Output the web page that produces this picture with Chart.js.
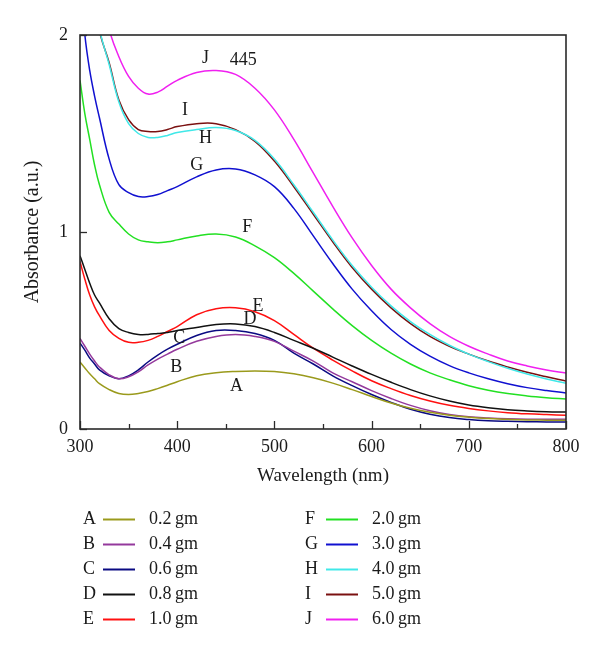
<!DOCTYPE html>
<html>
<head>
<meta charset="utf-8">
<script src="https://cdn.jsdelivr.net/npm/chart.js@4/dist/chart.umd.min.js"></script>
<style>
html,body{margin:0;padding:0;background:#fff;}
#wrap{width:600px;height:649px;position:relative;}
</style>
</head>
<body>
<div id="wrap"><canvas id="c" width="600" height="649"></canvas></div>
<script>
// ---- data ----
const wavelengths = [300,305,310,315,320,330,340,350,360,370,380,390,400,420,440,460,480,500,520,540,560,580,600,620,640,660,680,700,720,740,760,780,800];
const seriesLetters = ['A','B','C','D','E','F','G','H','I','J'];
const seriesNames = ['0.2\u2009gm','0.4\u2009gm','0.6\u2009gm','0.8\u2009gm','1.0\u2009gm','2.0\u2009gm','3.0\u2009gm','4.0\u2009gm','5.0\u2009gm','6.0\u2009gm'];
const seriesColors = ['#9a9a1c','#94399c','#0a0a82','#111111','#ff1010','#22e022','#1010d0','#40e8e8','#7a1010','#f020f0'];

const A = [0.34,0.31,0.28,0.255,0.23,0.20,0.18,0.175,0.18,0.19,0.205,0.222,0.24,0.27,0.285,0.292,0.295,0.292,0.28,0.26,0.233,0.20,0.165,0.132,0.105,0.085,0.07,0.06,0.053,0.049,0.046,0.045,0.044];
const B = [0.46,0.42,0.38,0.345,0.315,0.275,0.255,0.265,0.29,0.325,0.355,0.38,0.405,0.445,0.47,0.48,0.47,0.445,0.395,0.345,0.285,0.24,0.195,0.155,0.12,0.093,0.074,0.062,0.056,0.052,0.05,0.05,0.05];
const C = [0.437,0.40,0.36,0.33,0.30,0.27,0.255,0.27,0.30,0.34,0.375,0.405,0.43,0.475,0.50,0.50,0.485,0.45,0.385,0.33,0.27,0.22,0.175,0.135,0.10,0.075,0.058,0.048,0.042,0.039,0.037,0.036,0.036];
const D = [0.88,0.81,0.74,0.68,0.64,0.56,0.51,0.49,0.48,0.48,0.485,0.49,0.50,0.515,0.53,0.533,0.52,0.49,0.45,0.41,0.365,0.32,0.277,0.237,0.20,0.168,0.142,0.122,0.108,0.098,0.092,0.088,0.086];
const E = [0.85,0.76,0.68,0.62,0.575,0.50,0.46,0.44,0.44,0.45,0.47,0.495,0.52,0.58,0.61,0.615,0.595,0.55,0.48,0.41,0.35,0.295,0.245,0.205,0.17,0.142,0.12,0.104,0.092,0.083,0.077,0.073,0.07];
const F = [1.77,1.60,1.47,1.34,1.24,1.10,1.04,0.99,0.96,0.95,0.945,0.95,0.96,0.98,0.99,0.975,0.93,0.87,0.79,0.70,0.61,0.525,0.45,0.385,0.33,0.285,0.25,0.22,0.197,0.18,0.168,0.159,0.152];
const G = [2.3,2.0,1.82,1.69,1.58,1.37,1.24,1.20,1.18,1.18,1.19,1.21,1.23,1.28,1.315,1.32,1.29,1.23,1.12,0.98,0.84,0.71,0.60,0.505,0.43,0.37,0.322,0.285,0.255,0.23,0.21,0.195,0.183];
const H = [2.7,2.55,2.38,2.2,2.03,1.85,1.66,1.55,1.50,1.48,1.48,1.49,1.505,1.52,1.53,1.515,1.465,1.37,1.24,1.10,0.96,0.83,0.72,0.625,0.545,0.48,0.425,0.38,0.342,0.308,0.279,0.254,0.232];
const I = [2.7,2.55,2.38,2.2,2.02,1.86,1.67,1.57,1.52,1.51,1.51,1.52,1.535,1.55,1.55,1.52,1.46,1.36,1.23,1.09,0.95,0.82,0.71,0.615,0.535,0.47,0.42,0.38,0.345,0.315,0.288,0.265,0.244];
const J = [2.9,2.75,2.6,2.45,2.3,2.03,1.89,1.79,1.73,1.70,1.71,1.74,1.77,1.81,1.82,1.80,1.73,1.62,1.47,1.30,1.13,0.97,0.83,0.71,0.615,0.535,0.47,0.42,0.38,0.345,0.32,0.30,0.284];
const seriesValues = [A,B,C,D,E,F,G,H,I,J];

const xTickValues = [300,400,500,600,700,800];
const yTickValues = [0,1,2];
// curve annotation labels: [text, wavelength, absorbance]
const curveLabelText = ['A','B','C','D','E','F','G','H','I','J','445'];
const curveLabelX = [461,399,402,475,483,472,420,429,408,429,468];
const curveLabelY = [0.218,0.315,0.462,0.558,0.624,1.025,1.34,1.477,1.619,1.883,1.873];

const SERIF = '"Liberation Serif", "DejaVu Serif", serif';

const datasets = seriesValues.map((vals, i) => ({
  label: seriesLetters[i] + ' ' + seriesNames[i],
  data: wavelengths.map((w, k) => ({x: w, y: vals[k]})),
  borderColor: seriesColors[i],
  backgroundColor: seriesColors[i],
  borderWidth: 1.5,
  pointRadius: 0,
  tension: 0.4,
  fill: false
}));

const decor = {
  id: 'decor',
  afterDraw(chart) {
    const ctx = chart.ctx;
    const a = chart.chartArea;
    const xs = chart.scales.x, ys = chart.scales.y;
    ctx.save();
    // frame
    ctx.strokeStyle = '#2a2a2a';
    ctx.lineWidth = 1.6;
    ctx.strokeRect(a.left, a.top, a.right - a.left, a.bottom - a.top);
    // inward x ticks
    ctx.lineWidth = 1.3;
    for (let v = 300; v <= 800; v += 50) {
      const px = Math.round(xs.getPixelForValue(v)) + 0.5;
      const len = (v % 100 === 0) ? 8 : 5;
      ctx.beginPath(); ctx.moveTo(px, a.bottom); ctx.lineTo(px, a.bottom - len); ctx.stroke();
    }
    // inward y ticks
    yTickValues.forEach(v => {
      const py = Math.round(ys.getPixelForValue(v)) + 0.5;
      ctx.beginPath(); ctx.moveTo(a.left, py); ctx.lineTo(a.left + 7, py); ctx.stroke();
    });
    // curve labels
    ctx.fillStyle = '#1a1a1a';
    ctx.font = '18px ' + SERIF;
    ctx.textAlign = 'center';
    ctx.textBaseline = 'middle';
    curveLabelText.forEach((t, i) => {
      ctx.fillText(t, xs.getPixelForValue(curveLabelX[i]), ys.getPixelForValue(curveLabelY[i]));
    });
    // legend (two columns)
    ctx.textAlign = 'left';
    const cols = [{letter: 83, l0: 103, l1: 135, text: 149}, {letter: 305, l0: 326, l1: 358, text: 372}];
    chart.data.datasets.forEach((ds, i) => {
      const c = cols[Math.floor(i / 5)];
      const y = 519 + (i % 5) * 25;
      ctx.fillStyle = '#1a1a1a';
      ctx.fillText(seriesLetters[i], c.letter, y);
      ctx.strokeStyle = ds.borderColor;
      ctx.lineWidth = 2;
      ctx.beginPath(); ctx.moveTo(c.l0, y + 0.5); ctx.lineTo(c.l1, y + 0.5); ctx.stroke();
      ctx.fillText(seriesNames[i], c.text, y);
    });
    ctx.restore();
  }
};

new Chart(document.getElementById('c'), {
  type: 'line',
  data: { datasets },
  options: {
    responsive: false,
    animation: false,
    events: [],
    layout: { padding: { left: 0, right: 34, top: 35, bottom: 160 } },
    plugins: { legend: { display: false }, tooltip: { enabled: false } },
    scales: {
      x: {
        type: 'linear', min: 300, max: 800,
        afterBuildTicks(s) { s.ticks = xTickValues.map(v => ({value: v})); },
        afterFit(s) { s.height = 60; },
        grid: { display: false, drawTicks: false },
        border: { display: false },
        ticks: { color: '#1a1a1a', font: { family: SERIF, size: 18 }, padding: 7, maxRotation: 0, autoSkip: false },
        title: { display: true, text: 'Wavelength (nm)', color: '#1a1a1a', font: { family: SERIF, size: 19 }, padding: { top: 0, bottom: 2 } }
      },
      y: {
        type: 'linear', min: 0, max: 2,
        afterBuildTicks(s) { s.ticks = yTickValues.map(v => ({value: v})); },
        afterFit(s) { s.width = 80; },
        grid: { display: false, drawTicks: false },
        border: { display: false },
        ticks: { color: '#1a1a1a', font: { family: SERIF, size: 18 }, padding: 12 },
        title: { display: true, text: 'Absorbance (a.u.)', color: '#1a1a1a', font: { family: SERIF, size: 20 }, padding: { top: 21, bottom: 0 } }
      }
    }
  },
  plugins: [decor]
});
</script>
</body>
</html>
